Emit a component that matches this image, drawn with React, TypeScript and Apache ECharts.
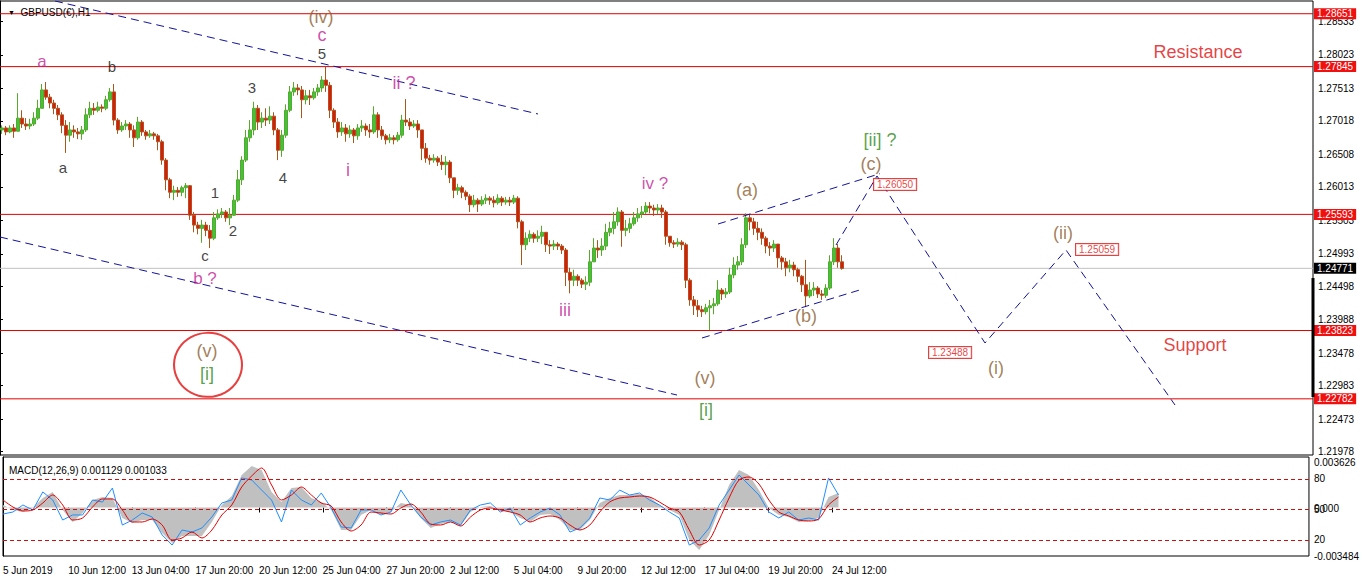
import React, { useEffect, useRef } from "react";
import * as echarts from "echarts";

const FONT = "'Liberation Sans', Arial, sans-serif";

// ---------- Price bars (4-hour groups, values in 1e-4) ----------
const firstOpen = 12688;
const barCloses = [
  12691,12685,12691,12686,12706,12697,12694,12697,12706,12721,
  12749,12738,12729,12721,12711,12695,12680,12688,12685,12682,
  12688,12711,12721,12718,12723,12721,12734,12746,12703,12688,
  12694,12697,12688,12676,12700,12685,12679,12682,12679,12670,
  12642,12612,12593,12596,12593,12600,12603,12558,12543,12538,
  12543,12535,12523,12554,12560,12563,12554,12558,12581,12612,
  12642,12676,12688,12721,12700,12706,12703,12709,12688,12657,
  12680,12718,12746,12752,12749,12734,12740,12737,12746,12752,
  12764,12756,12718,12700,12685,12691,12682,12688,12679,12691,
  12694,12688,12685,12711,12688,12679,12673,12676,12673,12680,
  12703,12700,12694,12697,12688,12660,12645,12642,12645,12639,
  12635,12639,12615,12596,12600,12593,12587,12574,12581,12575,
  12581,12584,12581,12577,12584,12578,12581,12578,12584,12548,
  12513,12523,12529,12523,12526,12532,12513,12511,12514,12511,
  12505,12471,12459,12465,12459,12453,12456,12487,12508,12505,
  12511,12532,12538,12548,12563,12535,12538,12545,12554,12560,
  12563,12572,12569,12566,12569,12563,12526,12516,12514,12517,
  12513,12459,12429,12420,12414,12411,12417,12420,12423,12444,
  12438,12441,12467,12482,12487,12513,12554,12548,12538,12532,
  12523,12511,12508,12514,12493,12487,12478,12482,12475,12465,
  12452,12435,12444,12447,12438,12436,12447,12487,12508,12487,
  12477
];
const barHighs = [
  12695,12694,12695,12697,12744,12718,12706,12705,12715,12734,
  12758,12761,12743,12734,12726,12715,12703,12700,12695,12691,
  12694,12721,12731,12729,12731,12727,12740,12752,12758,12706,
  12700,12703,12700,12695,12708,12703,12688,12688,12685,12682,
  12673,12645,12615,12603,12601,12603,12607,12604,12563,12548,
  12551,12548,12543,12563,12567,12569,12566,12569,12589,12627,
  12648,12688,12703,12731,12726,12715,12721,12724,12715,12691,
  12688,12727,12755,12761,12758,12755,12749,12749,12752,12758,
  12770,12784,12761,12721,12706,12700,12697,12695,12691,12697,
  12703,12698,12697,12724,12715,12694,12682,12682,12680,12685,
  12711,12735,12706,12703,12703,12688,12668,12650,12651,12648,
  12650,12648,12642,12615,12606,12603,12596,12590,12589,12584,
  12587,12590,12587,12587,12590,12587,12586,12586,12589,12587,
  12551,12532,12535,12532,12535,12542,12532,12520,12520,12517,
  12514,12508,12478,12475,12468,12462,12465,12505,12523,12520,
  12523,12545,12548,12563,12570,12566,12551,12554,12563,12569,
  12572,12578,12578,12574,12575,12574,12566,12526,12520,12523,
  12520,12516,12462,12435,12429,12420,12423,12429,12432,12459,
  12447,12447,12478,12494,12496,12523,12561,12560,12554,12548,
  12538,12526,12517,12520,12514,12496,12493,12490,12487,12478,
  12467,12490,12456,12456,12450,12444,12453,12497,12523,12514,
  12497
];
const barLows = [
  12682,12680,12683,12676,12686,12691,12688,12689,12694,12703,
  12721,12734,12721,12712,12703,12683,12653,12670,12676,12674,
  12673,12685,12706,12711,12715,12715,12718,12731,12695,12682,
  12685,12688,12676,12662,12673,12679,12673,12676,12673,12657,
  12635,12596,12584,12581,12586,12587,12584,12551,12532,12529,
  12516,12526,12508,12520,12551,12554,12548,12543,12557,12578,
  12604,12639,12670,12680,12688,12691,12694,12697,12680,12642,
  12647,12676,12715,12740,12741,12706,12727,12726,12734,12740,
  12746,12746,12706,12691,12676,12679,12670,12676,12668,12673,
  12685,12679,12676,12682,12676,12673,12666,12668,12666,12670,
  12676,12694,12688,12691,12676,12642,12638,12635,12638,12633,
  12627,12619,12607,12584,12589,12584,12581,12563,12570,12563,
  12572,12575,12574,12570,12574,12572,12574,12572,12575,12538,
  12482,12505,12517,12516,12517,12514,12502,12499,12505,12505,
  12499,12450,12439,12450,12450,12447,12444,12450,12487,12493,
  12496,12505,12526,12529,12542,12510,12526,12531,12542,12548,
  12554,12560,12561,12557,12560,12554,12513,12510,12508,12510,
  12505,12447,12420,12406,12403,12403,12407,12383,12407,12420,
  12429,12432,12438,12462,12475,12482,12508,12535,12528,12520,
  12513,12500,12496,12502,12478,12475,12465,12471,12465,12456,
  12441,12418,12432,12435,12432,12429,12432,12444,12482,12478,
  12475
];
const HOURS_PER_BAR = 4;

// ---------- Axes ----------
const priceTicks = [1.28533, 1.28023, 1.27513, 1.27018, 1.26508, 1.26013, 1.25503, 1.24993, 1.24498, 1.23988, 1.23478, 1.22983, 1.22473, 1.21978];
const resistanceLevels = [1.28651, 1.27845, 1.25593, 1.23823, 1.22782];
const lastPrice = 1.24771;
const scaleBar = [1.24623, 1.2281];

const timeTicks = [0, 65.5, 129.5, 193.5, 257.5, 321.5, 385.5, 449.5, 513.5, 577.5, 641.5, 705.5, 769.5, 833.5];
const timeLabels = ["5 Jun 2019", "10 Jun 12:00", "13 Jun 04:00", "17 Jun 20:00", "20 Jun 12:00", "25 Jun 04:00", "27 Jun 20:00", "2 Jul 12:00", "5 Jul 04:00", "9 Jul 20:00", "12 Jul 12:00", "17 Jul 04:00", "19 Jul 20:00", "24 Jul 12:00"];

// ---------- MACD panel (sampled every 10 hours) ----------
const IND_STEP = 10;
const blueVals = [
  45.5,47.5,54.4,49.5,67.2,59.3,39.6,44.6,44.6,59.3,
  57.3,71.1,34.7,39.6,46.5,42.6,24.9,15.0,29.8,27.8,
  31.8,42.6,56.4,59.3,81.0,79.0,69.1,59.3,37.7,69.1,
  59.3,54.4,66.2,51.4,32.8,31.8,49.5,49.5,44.6,47.5,
  69.1,54.4,42.6,34.7,37.7,39.6,34.7,49.5,54.4,56.4,
  47.5,51.4,34.7,41.6,47.5,51.4,44.6,27.8,31.8,41.6,
  61.3,59.3,69.1,64.2,66.2,59.3,54.4,47.5,41.6,15.0,
  20.0,31.8,54.4,69.1,83.9,74.1,64.2,47.5,41.6,47.5,
  39.6,41.6,39.6,81.0,64.2
];
// MACD signal and main, in 1e-6
const signalVals = [
  538,35,-252,-180,322,897,179,-899,-755,35,
  610,610,-180,-1042,-1042,-827,-1258,-2335,-2191,-1761,
  -2191,-1617,-540,179,1471,2261,2836,1615,538,897,
  1471,897,322,107,-1042,-1689,-1258,-324,-396,-468,
  -37,250,-324,-1186,-1258,-1042,-1330,-683,-180,-37,
  -180,-324,-540,-1042,-755,-611,-755,-1258,-1617,-1258,
  -324,394,681,753,825,753,394,-37,-324,-1617,
  -2694,-2335,-899,681,1974,2190,1687,538,-324,-611,
  -899,-970,-827,179,753
];
const mainVals = [
  179,-180,-324,-37,681,1112,-180,-1042,-396,538,
  753,681,-755,-1114,-899,-899,-1832,-2551,-2048,-2048,
  -2048,-1042,179,825,2333,2980,2692,1112,394,1400,
  1471,681,394,-180,-1617,-1617,-540,-180,-468,-324,
  322,179,-755,-1473,-1186,-1042,-1330,-324,35,107,
  -180,-324,-755,-1042,-540,-468,-899,-1617,-1617,-899,
  322,681,897,897,969,753,179,-180,-540,-2335,
  -3053,-1976,-180,1615,2692,2333,1256,-37,-540,-683,
  -1042,-970,-755,753,1040
];
const indLevels = [80, 50, 20];
const macdTop = 0.003626;
const macdBottom = -0.003484;
const macdZeroText = "0.000";

// ---------- Drawings ----------
const channelUpper = [[55, 1.28845], [538, 1.27123]];
const channelLower = [[0, 1.25248], [677, 1.2284]];
const miniUpper = [[718, 1.25446], [880, 1.26214]];
const miniLower = [[702, 1.23709], [863, 1.24456]];
const projection = [[836, 1.25126], [877, 1.26178], [985, 1.23633], [1066, 1.2505], [1175, 1.22688]];
const targetPrices = [1.2605, 1.23488, 1.25059];
const targetHours = [874, 929, 1076];

const BROWN = "#8c5e30";
const MAGENTA = "#c41f96";
const GREEN = "#2f8a1c";
const waveTexts = ["(iv)", "c", "5", "a", "b", "3", "ii ?", "a", "1", "2", "4", "i", "c", "b ?", "(v)", "[i]", "iii", "iv ?", "(a)", "(b)", "(c)", "[ii] ?", "(v)", "[i]", "(ii)", "(i)", "Resistance", "Support"];
const waveHours = [321, 322, 322, 42, 112, 252, 404, 63, 215, 233, 283, 348, 205, 205, 207, 207, 565, 655, 747, 806, 871, 880, 705, 706, 1063, 996, 1198, 1195];
const wavePrices = [1.2860, 1.2833, 1.2805, 1.2793, 1.2785, 1.2753, 1.2760, 1.2630, 1.2592, 1.2534, 1.2616, 1.2627, 1.2497, 1.2461, 1.2351, 1.2316, 1.2414, 1.2606, 1.2596, 1.2404, 1.2636, 1.2673, 1.2310, 1.2261, 1.2531, 1.2325, 1.2807, 1.2360];
const waveColors = [BROWN, MAGENTA, "#111", MAGENTA, "#111", "#111", MAGENTA, "#111", "#111", "#111", "#111", MAGENTA, "#111", MAGENTA, BROWN, GREEN, MAGENTA, MAGENTA, BROWN, BROWN, BROWN, GREEN, BROWN, GREEN, BROWN, BROWN, "#e01010", "#e01010"];
const waveSizes = [18, 18, 15, 17, 15, 15, 18, 15, 15, 15, 15, 18, 15, 17, 18, 18, 18, 17, 18, 18, 18, 18, 18, 18, 18, 18, 18, 18];
const circleCenter = [208, 1.2330];

function buildOption() {
  const bars = barCloses.map((c, i) => {
    const o = i === 0 ? firstOpen : barCloses[i - 1];
    const h = Math.max(barHighs[i], o, c);
    const l = Math.min(barLows[i], o, c);
    return [i * HOURS_PER_BAR + 2, o / 1e4, c / 1e4, l / 1e4, h / 1e4];
  });
  const blue = blueVals.map((v, i) => [i * IND_STEP, v]);
  const sig = signalVals.map((v, i) => [i * IND_STEP, v / 1e6]);
  const main = mainVals.map((v, i) => [i * IND_STEP, v / 1e6]);

  const axisText = { fontFamily: FONT, fontSize: 10, color: "#000" };
  const dashed = (data: number[][]) => ({
    type: "line",
    xAxisIndex: 0,
    yAxisIndex: 0,
    data,
    symbol: "none",
    silent: true,
    z: 4,
    lineStyle: { color: "#12129a", width: 1, type: [8, 5] },
  });
  const levelLine = (v: number, color: string, boxColor: string) => ({
    type: "line",
    xAxisIndex: 0,
    yAxisIndex: 0,
    data: [[0, v], [1313, v]],
    symbol: "none",
    silent: true,
    clip: false,
    z: 2,
    lineStyle: { color, width: 1 },
    endLabel: {
      show: true,
      distance: 1,
      formatter: () => v.toFixed(5),
      backgroundColor: boxColor,
      color: "#fff",
      fontFamily: FONT,
      fontSize: 10,
      padding: [1, 3, 0, 3],
    },
  });
  const macdAxis = (values: number[], extra: any) => ({
    type: "value",
    gridIndex: 1,
    position: "right",
    min: macdBottom,
    max: macdTop,
    axisLine: { show: false },
    splitLine: { show: false },
    axisTick: { show: false },
    axisLabel: { ...axisText, customValues: values, margin: 5, ...extra },
  });

  return {
    animation: false,
    backgroundColor: "#ffffff",
    title: [
      {
        text: "{t|▼}  GBPUSD(€),H1",
        left: 3,
        top: 2,
        textStyle: { ...axisText, fontWeight: "normal", rich: { t: { fontSize: 7, color: "#000" } } },
      },
      {
        text: "MACD(12,26,9) 0.001129 0.001033",
        left: 4,
        top: 460,
        textStyle: { ...axisText, fontWeight: "normal" },
      },
    ],
    grid: [
      { left: 0, top: 1, width: 1313, height: 454, show: true, borderColor: "#000", borderWidth: 1 },
      { left: 0, top: 457, width: 1313, height: 99, show: true, borderColor: "#000", borderWidth: 1 },
    ],
    xAxis: [
      { type: "value", gridIndex: 0, min: 0, max: 1313, show: false },
      {
        type: "value",
        gridIndex: 1,
        min: 0,
        max: 1313,
        axisLine: { show: false },
        splitLine: { show: false },
        axisTick: { show: true, customValues: timeTicks, length: 5, lineStyle: { color: "#000" } },
        axisLabel: {
          ...axisText,
          customValues: timeTicks,
          align: "left",
          margin: 9,
          formatter: (v: number) => {
            const i = timeTicks.findIndex((t) => Math.abs(t - v) < 0.01);
            return i >= 0 ? timeLabels[i] : "";
          },
        },
      },
    ],
    yAxis: [
      {
        type: "value",
        gridIndex: 0,
        position: "right",
        min: 1.21926,
        max: 1.28845,
        axisLine: { show: true, lineStyle: { color: "#000" } },
        splitLine: { show: false },
        axisTick: { show: true, customValues: priceTicks, length: 3, lineStyle: { color: "#000" } },
        axisLabel: { ...axisText, customValues: priceTicks, margin: 5, formatter: (v: number) => v.toFixed(5) },
      },
      {
        type: "value",
        gridIndex: 1,
        position: "right",
        min: 4.23,
        max: 101.6,
        axisLine: { show: true, lineStyle: { color: "#000" } },
        splitLine: { show: false },
        axisTick: { show: true, customValues: indLevels, length: 3, lineStyle: { color: "#000" } },
        axisLabel: { ...axisText, customValues: indLevels, margin: 5, formatter: (v: number) => String(v) },
      },
      macdAxis([macdTop], { verticalAlign: "top", formatter: (v: number) => v.toFixed(6) }),
      macdAxis([macdBottom], { formatter: (v: number) => v.toFixed(6) }),
      macdAxis([0], { verticalAlign: "top", padding: [-4, 0, 0, 0], formatter: () => macdZeroText }),
    ],
    series: [
      ...resistanceLevels.map((v) => levelLine(v, "#e00000", "#f01010")),
      levelLine(lastPrice, "#c0c0c0", "#000"),
      {
        type: "line",
        xAxisIndex: 0,
        yAxisIndex: 0,
        data: [[1313, scaleBar[0]], [1313, scaleBar[1]]],
        symbol: "none",
        silent: true,
        clip: false,
        z: 8,
        lineStyle: { color: "#000", width: 3 },
      },
      {
        type: "candlestick",
        xAxisIndex: 0,
        yAxisIndex: 0,
        data: bars,
        encode: { x: 0, y: [1, 2, 3, 4] },
        barWidth: 3,
        z: 3,
        itemStyle: {
          color: "#3fc43f",
          color0: "#e3160e",
          borderColor: "#58a82a",
          borderColor0: "#a8561c",
          borderWidth: 1,
        },
      },
      dashed(channelUpper),
      dashed(channelLower),
      dashed(miniUpper),
      dashed(miniLower),
      dashed(projection),
      {
        type: "scatter",
        xAxisIndex: 0,
        yAxisIndex: 0,
        symbolSize: 0,
        silent: true,
        z: 6,
        data: targetPrices.map((p, i) => [targetHours[i], p]),
        label: {
          show: true,
          position: "right",
          distance: 0,
          formatter: (d: any) => d.value[1].toFixed(5),
          color: "#e01010",
          backgroundColor: "#fff",
          borderColor: "#e01010",
          borderWidth: 1,
          padding: [1, 3, 0, 3],
          fontFamily: FONT,
          fontSize: 10,
        },
      },
      {
        type: "scatter",
        xAxisIndex: 0,
        yAxisIndex: 0,
        symbolSize: 0,
        silent: true,
        z: 7,
        data: waveTexts.map((t, i) => ({
          name: t,
          value: [waveHours[i], wavePrices[i]],
          label: { color: waveColors[i], fontSize: waveSizes[i] },
        })),
        label: {
          show: true,
          position: "inside",
          formatter: (d: any) => d.name,
          fontFamily: FONT,
        },
      },
      {
        type: "scatter",
        xAxisIndex: 0,
        yAxisIndex: 0,
        silent: true,
        z: 7,
        symbol: "circle",
        symbolSize: [68, 64],
        data: [circleCenter],
        itemStyle: { color: "rgba(0,0,0,0)", borderColor: "#e01010", borderWidth: 2 },
      },
      {
        type: "line",
        xAxisIndex: 1,
        yAxisIndex: 2,
        data: main,
        symbol: "none",
        silent: true,
        lineStyle: { width: 0, color: "#c0c0c0" },
        areaStyle: { color: "#c0c0c0", opacity: 1 },
        z: 2,
      },
      {
        type: "line",
        xAxisIndex: 1,
        yAxisIndex: 1,
        data: blue,
        symbol: "none",
        silent: true,
        z: 3,
        lineStyle: { width: 1, color: "#1e8fff" },
        markLine: {
          symbol: "none",
          silent: true,
          label: { show: false },
          lineStyle: { color: "#cc1010", width: 1, type: [4, 3] },
          data: indLevels.map((v) => ({ yAxis: v })),
        },
      },
      {
        type: "line",
        xAxisIndex: 1,
        yAxisIndex: 2,
        data: sig,
        symbol: "none",
        silent: true,
        smooth: 0.3,
        z: 4,
        lineStyle: { width: 1, color: "#e00000" },
      },
    ],
  };
}

export default function App() {
  const ref = useRef<HTMLDivElement>(null);
  useEffect(() => {
    if (!ref.current) return;
    const chart = echarts.init(ref.current, null, { renderer: "svg" });
    chart.setOption(buildOption() as any);
    return () => chart.dispose();
  }, []);
  return (
    <div
      ref={ref}
      style={{ position: "fixed", left: 0, top: 0, width: 1362, height: 585, background: "#fff" }}
    />
  );
}
